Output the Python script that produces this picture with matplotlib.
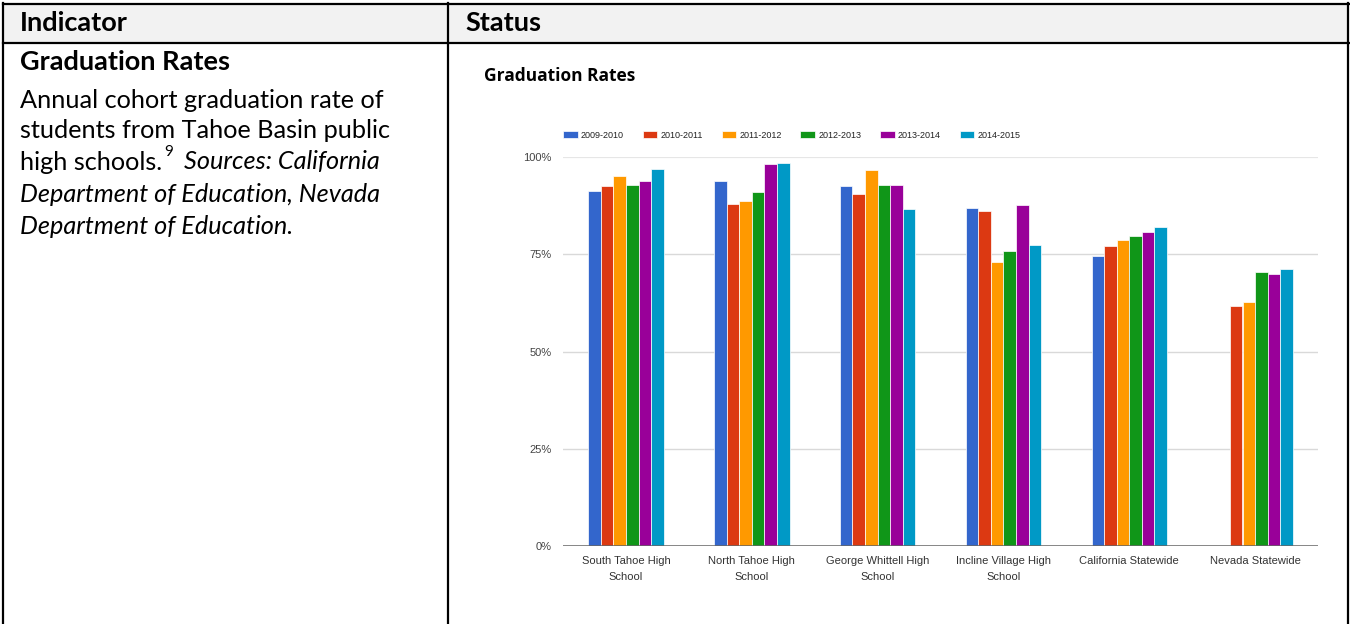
import numpy as np
import matplotlib
matplotlib.use("Agg")
import matplotlib.pyplot as plt
from matplotlib.patches import Rectangle
from matplotlib.lines import Line2D

# ---- data -------------------------------------------------------------
schools = [
    "South Tahoe High\nSchool",
    "North Tahoe High\nSchool",
    "George Whittell High\nSchool",
    "Incline Village High\nSchool",
    "California Statewide",
    "Nevada Statewide",
]
school_years = ["2009-2010", "2010-2011", "2011-2012", "2012-2013", "2013-2014", "2014-2015"]

rate_2009_2010 = [91.3, 93.9, 92.5, 87.0, 74.5, np.nan]
rate_2010_2011 = [92.5, 87.9, 90.4, 86.1, 77.0, 61.7]
rate_2011_2012 = [95.1, 88.6, 96.6, 72.9, 78.6, 62.7]
rate_2012_2013 = [92.9, 90.9, 92.9, 75.8, 79.8, 70.5]
rate_2013_2014 = [93.9, 98.2, 92.9, 87.6, 80.8, 69.9]
rate_2014_2015 = [96.9, 98.4, 86.6, 77.4, 82.0, 71.1]

series = [rate_2009_2010, rate_2010_2011, rate_2011_2012,
          rate_2012_2013, rate_2013_2014, rate_2014_2015]
colors = ["#3366cc", "#dc3912", "#ff9900", "#109618", "#990099", "#0099c6"]

y_ticks = [0, 25, 50, 75, 100]
y_tick_labels = ["0%", "25%", "50%", "75%", "100%"]

# ---- figure -----------------------------------------------------------
W, H = 1350, 624
fig = plt.figure(figsize=(W / 100, H / 100), dpi=100)
fig.patch.set_facecolor("white")


def fx(px):
    return px / W


def fy(py):
    return 1 - py / H


# table header band and borders
fig.patches.append(Rectangle((fx(4), fy(41.5)), fx(1343), 37 / H,
                             transform=fig.transFigure, facecolor="#f2f2f2",
                             edgecolor="none", zorder=0))
border = dict(color="black", linewidth=1.6, transform=fig.transFigure, zorder=5)
fig.lines.append(Line2D([fx(2.5), fx(1348.5)], [fy(4), fy(4)], **border))
fig.lines.append(Line2D([fx(2.5), fx(1348.5)], [fy(42.5), fy(42.5)], **border))
fig.lines.append(Line2D([fx(3), fx(3)], [fy(3), fy(624)], **border))
fig.lines.append(Line2D([fx(448), fx(448)], [fy(3), fy(624)], **border))
fig.lines.append(Line2D([fx(1348), fx(1348)], [fy(3), fy(624)], **border))

doc_font = "Lato"
head_size = 19.5
fig.text(fx(20), fy(23), "Indicator", fontsize=head_size, fontweight="bold",
         family=doc_font, va="center", ha="left")
fig.text(fx(465), fy(23), "Status", fontsize=head_size, fontweight="bold",
         family=doc_font, va="center", ha="left")
fig.text(fx(20), fy(62), "Graduation Rates", fontsize=head_size, fontweight="bold",
         family=doc_font, va="center", ha="left")

body_size = 18.2
fig.text(fx(20), fy(100), "Annual cohort graduation rate of", fontsize=body_size,
         family=doc_font, va="center", ha="left")
fig.text(fx(20), fy(131), "students from Tahoe Basin public", fontsize=body_size,
         family=doc_font, va="center", ha="left")

# third line: plain text, superscript footnote, italic source
renderer = fig.canvas.get_renderer()
t1 = fig.text(fx(20), fy(162), "high schools.", fontsize=body_size,
              family=doc_font, va="center", ha="left")
bb = t1.get_window_extent(renderer)
t2 = fig.text(bb.x1 / W + fx(2), fy(152), "9", fontsize=11,
              family=doc_font, va="center", ha="left")
bb2 = t2.get_window_extent(renderer)
fig.text(bb2.x1 / W + fx(11), fy(162), "Sources: California", fontsize=body_size,
         family=doc_font, style="italic", va="center", ha="left")
fig.text(fx(20), fy(194), "Department of Education, Nevada", fontsize=body_size,
         family=doc_font, style="italic", va="center", ha="left")
fig.text(fx(20), fy(226), "Department of Education.", fontsize=body_size,
         family=doc_font, style="italic", va="center", ha="left")

# ---- chart ------------------------------------------------------------
fig.text(fx(484), fy(76), "Graduation Rates", fontsize=12.5, fontweight="bold",
         family="Open Sans", va="center", ha="left")

ax = fig.add_axes([fx(563), fy(546), (1318 - 563) / W, (546 - 157) / H])
ax.set_xlim(-0.5, len(schools) - 0.5)
ax.set_ylim(0, 100)

x = np.arange(len(schools))
bar_w = 0.1
n = len(series)
handles = []
for k, (vals, col, yr) in enumerate(zip(series, colors, school_years)):
    h = ax.bar(x + (k - (n - 1) / 2) * bar_w, vals, width=bar_w, color=col,
               edgecolor="white", linewidth=0.5, label=yr, zorder=3)
    handles.append(h)

for yv in y_ticks[1:]:
    ax.axhline(yv, color="#e6e6e6" if yv == 100 else "#d9d9d9",
               linewidth=1.6 if yv == 100 else 1.0, zorder=1)
ax.axhline(0, color="#666666", linewidth=1.1, zorder=4)

for s in ax.spines.values():
    s.set_visible(False)

chart_font = "Liberation Sans"
ax.set_yticks(y_ticks)
ax.set_yticklabels(y_tick_labels, fontsize=8, color="#444444", family=chart_font)
ax.set_xticks(x)
ax.set_xticklabels(schools, fontsize=8, color="#333333", family=chart_font,
                   linespacing=1.7)
ax.tick_params(axis="y", length=0, pad=8)
ax.tick_params(axis="x", length=0, pad=7.5)

leg = ax.legend(handles=handles, loc="lower left",
                bbox_to_anchor=(fx(563), fy(139.5)),
                bbox_transform=fig.transFigure, ncol=6, frameon=False,
                prop={"family": chart_font, "size": 6.5},
                handlelength=1.65, handleheight=0.8, handletextpad=0.35,
                columnspacing=2.05, borderpad=0, borderaxespad=0)
for t in leg.get_texts():
    t.set_color("#222222")

fig.savefig("out.png", dpi=100, facecolor="white")
